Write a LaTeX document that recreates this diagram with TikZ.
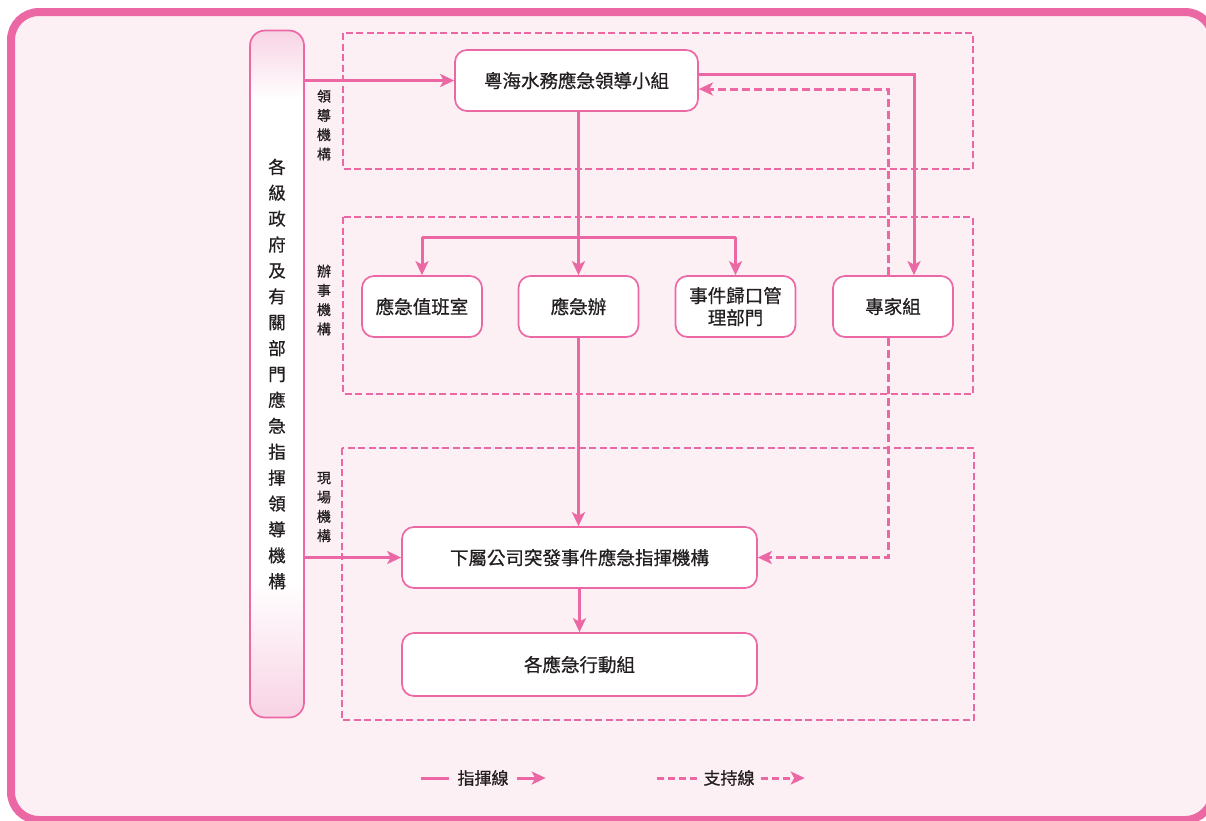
\documentclass[tikz,border=0pt]{standalone}
\usepackage{fontspec}
\setmainfont{Noto Sans CJK TC}[FakeBold=0.6]
\usetikzlibrary{arrows.meta}

\definecolor{rim}{HTML}{EC68A4}
\definecolor{paper}{HTML}{FDF0F5}
\definecolor{ink}{HTML}{231F20}
\definecolor{barpink}{HTML}{F8D3E4}

\pgfdeclareverticalshading{barshade}{100bp}{color(0bp)=(barpink); color(25bp)=(barpink);
        color(35bp)=(white); color(70bp)=(white); color(75bp)=(barpink); color(100bp)=(barpink)}

\tikzset{
        unitbox/.style={draw=rim, line width=1.7pt, rounded corners=12pt, fill=white,
                text=ink, align=center, inner sep=0pt, font=\fontsize{18.5}{22}\selectfont},
        zone/.style={draw=rim, line width=1.3pt, dash pattern=on 7pt off 3.5pt},
        tag/.style={text=ink, align=center, inner sep=0pt, font=\fontsize{14}{19.3}\selectfont},
        cmdline/.style={draw=rim, line width=3pt},
        cmd/.style={cmdline, -{Stealth[length=14pt,width=13pt,inset=3.5pt]}},
        supline/.style={draw=rim, line width=3pt, dash pattern=on 8pt off 4pt},
        sup/.style={supline, -{Stealth[length=14pt,width=13pt,inset=3.5pt]}},
        keytext/.style={text=ink, inner ysep=0pt, font=\fontsize{17}{20}\selectfont}
}

\begin{document}
\begin{tikzpicture}[x=1pt,y=-1pt]
        \useasboundingbox (0,0) rectangle (1206,820);
        \draw [rim, line width=8pt, fill=paper, rounded corners=28pt] (11,12) rectangle (1213,820);

        \draw [zone] (343,33) rectangle (973,169);
        \draw [zone] (343,217) rectangle (973,394);
        \draw [zone] (342,448) rectangle (974,720);

        \node [draw=rim, line width=1.7pt, rounded corners=15pt, shading=barshade,
                minimum width=54pt, minimum height=687pt, inner sep=0pt,
                text=ink, align=center, font=\fontsize{17.5}{25.9}\selectfont] (gov) at (277,374)
                {各\\級\\政\\府\\及\\有\\關\\部\\門\\應\\急\\指\\揮\\領\\導\\機\\構};

        \node [tag] (leadtag) at (324,125) {領\\導\\機\\構};
        \node [tag] (worktag) at (324,300) {辦\\事\\機\\構};
        \node [tag] (sitetag) at (324,507) {現\\場\\機\\構};

        \node [unitbox, minimum width=243pt, minimum height=61pt] (lead) at (576.5,80.5) {粵海水務應急領導小組};
        \node [unitbox, minimum width=120pt, minimum height=61pt] (duty) at (422,306.5) {應急值班室};
        \node [unitbox, minimum width=120pt, minimum height=61pt] (office) at (578.5,306.5) {應急辦};
        \node [unitbox, minimum width=120pt, minimum height=61pt] (dept) at (735.5,306.5) {事件歸口管\\理部門};
        \node [unitbox, minimum width=120pt, minimum height=61pt] (expert) at (893,306.5) {專家組};
        \node [unitbox, minimum width=355pt, minimum height=61pt] (site) at (579.5,557.5) {下屬公司突發事件應急指揮機構};
        \node [unitbox, minimum width=355pt, minimum height=63pt] (squads) at (579.5,664.5) {各應急行動組};

        \coordinate (fork) at (578.5,237);
        \draw [cmd] (gov.east |- lead.west) -- (lead.west);
        \draw [cmd] (gov.east |- site.west) -- (site.west);
        \draw [cmd] (office.north |- lead.south) -- (office.north);
        \draw [cmdline] (duty.north |- fork) -- (dept.north |- fork);
        \draw [cmd] (duty.north |- fork) -- (duty.north);
        \draw [cmd] (dept.north |- fork) -- (dept.north);
        \draw [cmd] ([yshift=6.5pt]lead.east) -| ([xshift=21pt]expert.north);
        \draw [sup] ([xshift=-5pt]expert.north) |- ([yshift=-8.5pt]lead.east);
        \draw [sup] ([xshift=-5pt]expert.south) |- (site.east);
        \draw [cmd] (office.south) -- (office.south |- site.north);
        \draw [cmd] (site.south) -- (squads.north);

        \node [keytext, inner xsep=8pt] (cmdkey) at (483,778) {指揮線};
        \draw [cmdline] (cmdkey.west) -- ++(-28,0);
        \draw [cmd] (cmdkey.east) -- ++(29,0);
        \node [keytext, inner xsep=6pt] (supkey) at (729,778) {支持線};
        \draw [supline, dash pattern=on 7pt off 4pt] (supkey.west) -- ++(-42,0);
        \draw [sup, dash pattern=on 7pt off 4pt] (supkey.east) -- ++(44,0);
\end{tikzpicture}
\end{document}
